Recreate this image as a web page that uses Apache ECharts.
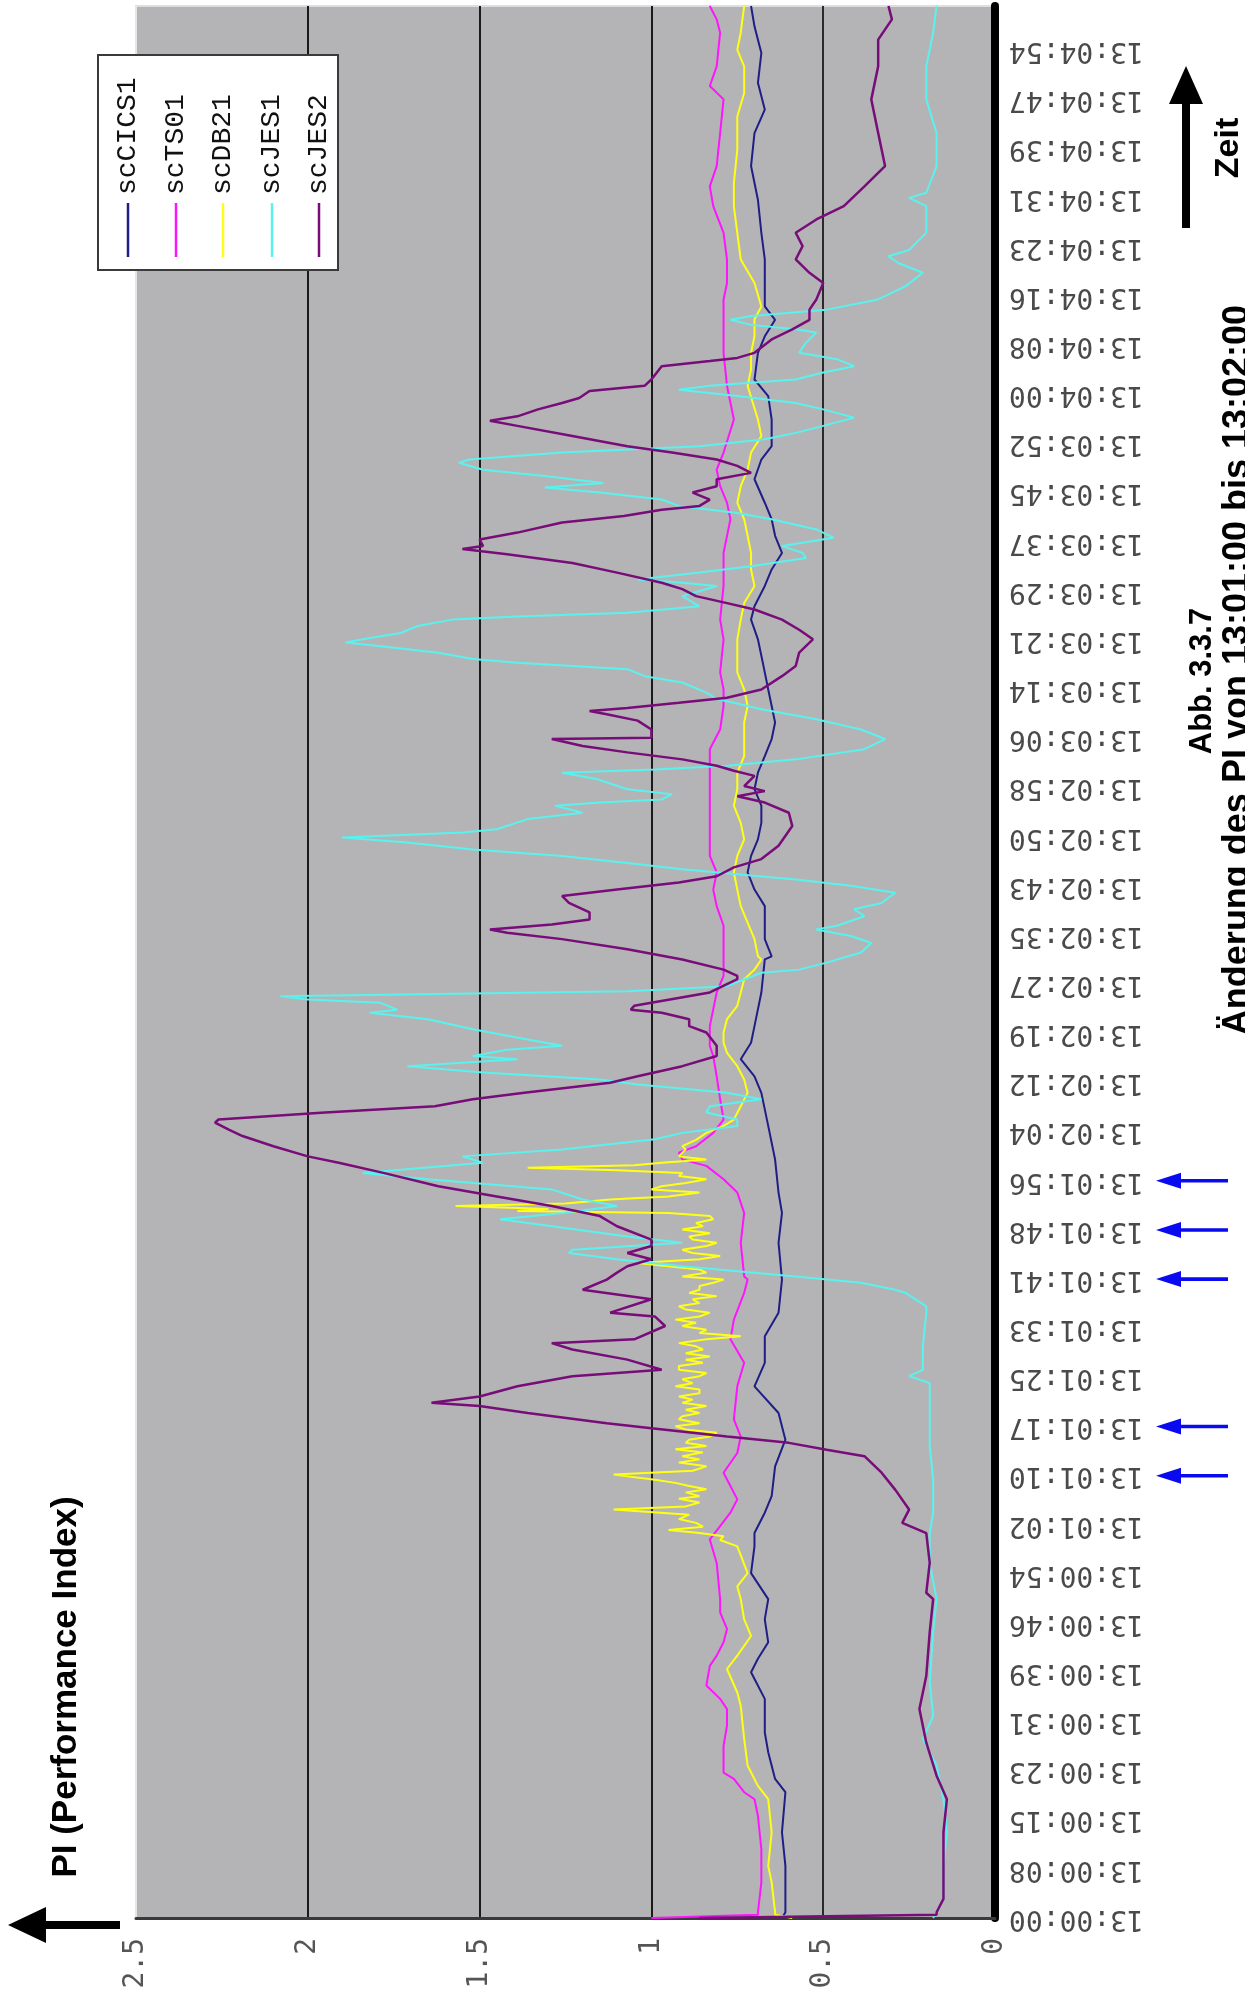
<!DOCTYPE html>
<html><head><meta charset="utf-8">
<script src="https://cdn.jsdelivr.net/npm/echarts@6.0.0/dist/echarts.min.js"></script>
<style>html,body{margin:0;padding:0;background:#fff;}#chart{width:1245px;height:2000px;}</style>
</head><body><div id="chart"></div>
<script>
// ---------- DATA ----------
const timeTickLabels = ['13:00:00','13:00:08','13:00:15','13:00:23','13:00:31','13:00:39','13:00:46','13:00:54',
 '13:01:02','13:01:10','13:01:17','13:01:25','13:01:33','13:01:41','13:01:48','13:01:56',
 '13:02:04','13:02:12','13:02:19','13:02:27','13:02:35','13:02:43','13:02:50','13:02:58',
 '13:03:06','13:03:14','13:03:21','13:03:29','13:03:37','13:03:45','13:03:52',
 '13:04:00','13:04:08','13:04:16','13:04:23','13:04:31','13:04:39','13:04:47','13:04:54'];
const timeTickStep = 294 / 38;          // seconds between two tick labels
const timeMax = 301;                     // seconds shown after 13:00:00
const valueTickLabels = ['0','0.5','1','1.5','2','2.5'];
const seriesNames = ['scCICS1','scTS01','scDB21','scJES1','scJES2'];
const seriesColors = ['#1e1e86','#ff14ff','#ffff14','#5af2ee','#780c78'];
const arrowLabels = ['13:01:10','13:01:17','13:01:41','13:01:48','13:01:56'];

// [seconds after 13:00:00, PI]
const scCICS1 = [[0,0.62],[0.9,0.61],[8.2,0.61],[13.5,0.62],[19.8,0.61],[21.9,0.64],[26.1,0.66],[29.2,0.67],[34.5,0.67],[38.7,0.71],[40.8,0.69],[43.4,0.66],[47.0,0.67],[50.2,0.66],[54.3,0.71],[58.5,0.70],[60.6,0.70],[63.8,0.67],[66.4,0.65],[71.1,0.64],[75.3,0.61],[79.5,0.63],[83.7,0.70],[87.4,0.67],[91.6,0.67],[95.3,0.63],[100.5,0.62],[106.3,0.63],[111.0,0.62],[114.2,0.63],[119.4,0.64],[124.7,0.66],[127.3,0.67],[129.9,0.68],[132.5,0.70],[135.2,0.74],[137.8,0.71],[140.4,0.70],[145.7,0.68],[150.9,0.67],[151.4,0.65],[154.1,0.67],[156.7,0.67],[159.3,0.67],[161.9,0.70],[164.6,0.72],[167.2,0.71],[169.8,0.69],[172.4,0.68],[175.1,0.68],[177.7,0.70],[180.3,0.69],[182.9,0.67],[185.6,0.65],[188.2,0.64],[190.8,0.65],[193.4,0.66],[196.1,0.67],[198.7,0.68],[201.3,0.69],[204.4,0.71],[206.5,0.70],[209.7,0.67],[212.3,0.65],[214.9,0.62],[217.6,0.64],[220.2,0.65],[222.8,0.67],[226.5,0.70],[229.6,0.68],[231.7,0.65],[235.9,0.65],[239.6,0.66],[242.2,0.70],[246.4,0.69],[249.0,0.67],[251.6,0.64],[253.7,0.67],[257.4,0.67],[261.1,0.67],[265.3,0.68],[270.5,0.69],[275.8,0.71],[281.0,0.70],[284.7,0.67],[288.9,0.69],[293.6,0.68],[297.8,0.70],[301.0,0.71]];

const scTS01 = [[0,1.00],[0.5,0.69],[0.9,0.69],[5.6,0.68],[10.8,0.68],[16.1,0.69],[18.7,0.70],[19.8,0.73],[21.9,0.76],[22.9,0.79],[27.1,0.79],[30.3,0.78],[32.9,0.78],[34.5,0.80],[36.6,0.84],[39.7,0.83],[41.3,0.81],[43.4,0.79],[45.5,0.78],[48.1,0.80],[50.2,0.80],[55.9,0.81],[59.6,0.83],[61.7,0.80],[63.8,0.77],[65.9,0.75],[68.0,0.77],[70.1,0.79],[73.2,0.75],[75.8,0.74],[78.5,0.76],[83.7,0.75],[87.4,0.73],[91.1,0.77],[94.2,0.76],[98.4,0.73],[100.5,0.72],[101.0,0.73],[106.3,0.74],[111.0,0.73],[114.2,0.75],[116.3,0.79],[118.4,0.84],[119.4,0.91],[120.5,0.92],[121.5,0.87],[123.6,0.82],[125.7,0.79],[128.9,0.80],[132.5,0.81],[135.7,0.82],[137.3,0.83],[140.4,0.83],[145.7,0.81],[148.3,0.79],[153.0,0.79],[156.2,0.79],[159.3,0.81],[161.9,0.82],[164.6,0.81],[167.2,0.83],[169.8,0.83],[174.0,0.83],[177.7,0.83],[181.4,0.83],[184.0,0.83],[187.1,0.80],[190.8,0.79],[193.4,0.79],[196.1,0.80],[201.3,0.79],[204.4,0.80],[209.7,0.79],[214.9,0.79],[220.2,0.77],[222.8,0.78],[225.4,0.80],[228.0,0.81],[230.7,0.79],[235.9,0.76],[241.2,0.78],[246.4,0.79],[251.7,0.79],[254.8,0.79],[257.4,0.78],[261.1,0.78],[265.3,0.79],[269.5,0.82],[272.6,0.83],[275.8,0.81],[281.0,0.80],[286.3,0.79],[288.4,0.83],[291.5,0.81],[296.8,0.80],[298.9,0.81],[301.0,0.83]];

const scDB21 = [[0,0.59],[0.5,0.64],[0.9,0.64],[5.6,0.65],[8.2,0.66],[13.5,0.65],[18.7,0.66],[20.8,0.69],[24.0,0.72],[28.2,0.73],[33.4,0.74],[35.5,0.75],[39.2,0.78],[41.3,0.75],[44.4,0.71],[47.0,0.73],[50.2,0.74],[52.2,0.75],[54.3,0.72],[58.5,0.75],
[59.5,0.80],[60.1,0.79],[60.6,0.86],[61.1,0.95],[61.6,0.85],[62.2,0.87],[62.8,0.92],[63.5,0.89],[64.3,1.11],[64.8,0.90],[65.4,0.86],[66.0,0.92],[66.4,0.86],[67.0,0.90],[67.5,0.84],[68.0,0.89],[68.5,0.93],[69.0,0.99],[69.8,1.11],[70.4,0.88],[71.1,0.84],[71.7,0.92],[72.2,0.86],[72.7,0.91],[73.3,0.85],[73.8,0.93],[74.3,0.84],[74.8,0.90],[75.3,0.89],[75.8,0.83],[76.4,0.81],[76.9,0.90],[77.4,0.93],[77.9,0.86],[78.5,0.92],[79.0,0.91],[79.5,0.86],[80.0,0.90],[80.6,0.84],[81.1,0.91],[81.6,0.88],[82.1,0.92],[82.6,0.86],[83.2,0.86],[83.7,0.93],[84.2,0.88],[84.8,0.91],[85.3,0.86],[85.8,0.84],[86.3,0.92],[86.9,0.92],[87.4,0.85],[87.9,0.90],[88.4,0.83],[88.9,0.90],[89.5,0.85],[90.0,0.87],[90.5,0.92],[91.1,0.84],[91.6,0.74],[92.1,0.86],[92.6,0.84],[93.2,0.91],[93.7,0.87],[94.2,0.93],[94.7,0.86],[95.3,0.83],[95.8,0.90],[96.3,0.92],[96.8,0.86],[97.4,0.88],[97.9,0.81],[98.4,0.89],[98.9,0.86],[99.5,0.86],[100.0,0.82],[100.5,0.79],
[101.0,0.91],[101.6,0.84],[102.1,0.86],[102.6,0.95],[103.1,1.04],[103.7,0.86],[104.2,0.80],[104.7,0.88],[105.2,0.91],[105.8,0.84],[106.3,0.81],[106.8,0.88],[107.3,0.89],[107.8,0.83],[108.4,0.91],[108.9,0.85],[109.4,0.87],[110.0,0.82],[110.5,0.83],[111.0,0.95],[111.3,1.39],[111.6,1.30],[112.1,1.57],[112.5,1.25],[113.1,1.12],[113.6,0.95],[114.2,0.86],[114.7,1.00],[115.2,0.97],[115.7,0.90],[116.3,0.84],[116.8,0.92],[117.3,0.91],[117.7,1.10],[118.1,1.36],[118.5,1.05],[118.9,0.97],[119.4,0.84],[119.9,0.92],[120.2,0.92],[121.0,0.90],[121.5,0.91],[122.5,0.87],[123.6,0.84],[124.7,0.79],[125.7,0.76],[127.8,0.74],[129.9,0.72],[132.0,0.73],[134.1,0.75],[136.2,0.78],[137.8,0.79],[139.4,0.79],[141.5,0.78],[143.6,0.75],[145.7,0.74],[147.8,0.73],[149.3,0.70],[150.9,0.68],[151.4,0.69],[154.1,0.70],[156.7,0.72],[159.3,0.74],[161.9,0.75],[164.6,0.76],[167.2,0.75],[169.8,0.73],[172.4,0.74],[175.1,0.76],[177.7,0.75],[180.3,0.75],[182.9,0.73],[185.6,0.73],[188.2,0.73],[190.8,0.72],[193.4,0.73],[196.1,0.75],[198.7,0.75],[201.3,0.75],[204.4,0.74],[207.0,0.73],[209.7,0.70],[212.3,0.71],[214.9,0.71],[217.6,0.72],[220.2,0.73],[222.8,0.75],[225.4,0.74],[228.0,0.72],[230.7,0.71],[233.3,0.68],[235.9,0.69],[241.2,0.72],[243.8,0.71],[246.4,0.71],[249.0,0.70],[251.7,0.70],[253.7,0.68],[257.4,0.70],[261.1,0.74],[265.3,0.75],[269.5,0.76],[273.1,0.76],[278.4,0.75],[281.0,0.75],[283.6,0.75],[287.3,0.73],[291.5,0.73],[294.1,0.75],[296.8,0.74],[301.0,0.73]];

const scJES1 = [[0,0.18],[0.3,0.18],[3.0,0.15],[8.2,0.15],[13.5,0.14],[18.7,0.15],[24.0,0.17],[28.2,0.21],[31.8,0.18],[37.1,0.19],[45.0,0.18],[50.2,0.17],[55.9,0.19],[60.6,0.19],[63.8,0.18],[69.0,0.18],[74.3,0.19],[79.5,0.19],[84.2,0.19],[85.3,0.25],[86.3,0.21],[90.0,0.21],[95.3,0.20],[96.3,0.20],[98.4,0.26],[98.9,0.29],[100.0,0.39],[101.0,0.58],[102.6,0.91],[103.7,1.10],[104.7,1.24],[105.2,1.23],[106.3,0.91],[107.3,1.07],[108.9,1.29],[110.0,1.44],[111.0,1.26],[112.1,1.10],[113.1,1.20],[114.7,1.29],[116.3,1.65],[117.3,1.84],[118.9,1.49],[119.9,1.55],[121.0,1.26],[122.6,0.99],[123.6,0.91],[124.7,0.75],[125.7,0.75],[126.8,0.84],[127.8,0.83],[128.9,0.68],[129.9,0.78],[131.2,1.04],[132.0,1.15],[133.1,1.49],[134.1,1.71],[135.2,1.39],[135.7,1.52],[136.7,1.42],[137.3,1.26],[138.3,1.36],[139.9,1.52],[141.5,1.65],[142.5,1.82],[143.0,1.74],[144.1,1.79],[144.6,2.00],[145.1,2.08],[145.9,1.07],[146.7,0.78],[148.8,0.68],[149.3,0.57],[150.4,0.49],[152.0,0.39],[153.5,0.36],[154.6,0.42],[155.6,0.52],[156.2,0.46],[157.7,0.38],[158.8,0.41],[159.8,0.33],[161.4,0.29],[162.5,0.42],[163.5,0.58],[164.3,0.75],[165.1,0.91],[166.1,1.07],[167.2,1.26],[168.2,1.52],[169.3,1.71],[170.1,1.90],[170.9,1.55],[171.4,1.45],[173.0,1.36],[174.0,1.20],[175.1,1.28],[175.6,1.15],[176.1,0.97],[176.9,0.94],[177.7,1.07],[179.3,1.16],[180.3,1.26],[180.8,0.99],[181.4,0.78],[182.4,0.58],[184.0,0.38],[185.6,0.32],[187.1,0.39],[188.7,0.52],[190.3,0.68],[191.3,0.76],[191.9,0.81],[192.9,0.84],[194.5,0.91],[195.5,1.02],[196.6,1.07],[197.6,1.39],[198.2,1.52],[199.2,1.62],[200.3,1.80],[200.8,1.89],[201.3,1.84],[202.3,1.73],[203.4,1.68],[204.4,1.58],[204.9,1.39],[205.5,1.07],[206.5,0.86],[208.1,0.91],[209.7,0.81],[210.2,0.91],[210.7,1.04],[211.8,0.86],[212.8,0.71],[214.1,0.55],[214.9,0.56],[216.0,0.62],[217.3,0.47],[218.6,0.52],[220.2,0.65],[221.2,0.75],[222.3,0.92],[223.3,0.97],[224.4,1.15],[225.2,1.31],[225.9,1.14],[227.0,1.31],[228.0,1.49],[229.1,1.56],[229.6,1.53],[230.7,1.26],[231.7,0.86],[232.8,0.67],[233.8,0.58],[234.9,0.50],[236.2,0.41],[237.5,0.50],[238.5,0.58],[239.6,0.75],[240.6,0.92],[241.2,0.83],[242.2,0.58],[243.3,0.50],[244.3,0.41],[245.4,0.46],[246.4,0.57],[248.0,0.55],[249.6,0.52],[250.1,0.58],[250.8,0.71],[251.6,0.77],[252.2,0.71],[253.2,0.49],[254.8,0.34],[256.9,0.26],[259.0,0.21],[260.5,0.28],[261.6,0.31],[262.6,0.25],[265.3,0.20],[269.5,0.20],[270.8,0.25],[271.6,0.20],[275.8,0.17],[281.0,0.17],[286.3,0.20],[291.5,0.20],[296.8,0.18],[301.0,0.17]];

const scJES2 = [[0,0.86],[0.5,0.17],[0.9,0.17],[3.0,0.15],[8.2,0.15],[13.5,0.15],[18.7,0.14],[22.4,0.17],[27.6,0.20],[32.9,0.22],[38.1,0.20],[45.0,0.19],[50.2,0.18],[51.2,0.20],[55.9,0.19],[60.6,0.20],[62.2,0.27],[64.3,0.25],[67.4,0.29],[70.1,0.33],[72.7,0.38],[73.7,0.49],[74.8,0.60],[75.8,0.78],[77.1,1.00],[77.9,1.13],[79.5,1.36],[80.6,1.50],[81.1,1.64],[82.1,1.50],[83.7,1.39],[85.3,1.23],[86.3,0.97],[87.9,1.07],[89.5,1.23],[90.5,1.29],[91.1,1.05],[93.2,0.96],[94.7,0.99],[95.3,1.12],[97.4,1.00],[98.9,1.20],[100.5,1.13],[101.6,1.10],[102.6,1.07],[103.7,1.00],[104.7,1.07],[105.8,1.00],[106.8,1.00],[108.9,1.10],[110.5,1.15],[112.1,1.29],[113.6,1.45],[115.2,1.62],[117.3,1.78],[118.9,1.91],[119.9,2.00],[121.5,2.10],[123.1,2.19],[124.1,2.23],[125.2,2.27],[125.7,2.26],[126.8,1.95],[127.8,1.63],[128.9,1.52],[129.9,1.37],[131.5,1.12],[132.5,1.04],[134.1,0.91],[135.7,0.81],[137.3,0.81],[139.4,0.84],[140.4,0.89],[141.5,0.89],[142.5,0.97],[143.0,1.06],[143.6,1.05],[145.7,0.83],[147.8,0.75],[148.3,0.75],[149.3,0.79],[150.9,0.91],[152.5,1.07],[154.1,1.26],[155.1,1.42],[155.6,1.47],[156.4,1.29],[157.2,1.18],[158.3,1.18],[159.8,1.24],[160.9,1.26],[161.9,1.10],[163.0,0.92],[164.0,0.81],[165.4,0.76],[166.7,0.68],[168.8,0.63],[171.9,0.59],[174.0,0.60],[175.6,0.67],[176.6,0.75],[177.4,0.67],[178.2,0.73],[179.8,0.70],[180.6,0.76],[181.4,0.81],[182.4,0.91],[183.5,1.07],[184.5,1.20],[185.6,1.29],[185.8,1.00],[187.1,1.00],[188.5,1.04],[189.5,1.13],[190.0,1.18],[190.5,1.07],[191.3,0.92],[192.1,0.78],[193.4,0.68],[195.5,0.62],[197.1,0.58],[199.2,0.57],[201.3,0.53],[202.8,0.57],[204.4,0.62],[206.0,0.70],[207.0,0.78],[208.1,0.87],[209.2,0.91],[210.2,0.97],[211.8,1.10],[213.3,1.23],[214.7,1.42],[215.5,1.55],[216.0,1.49],[217.0,1.50],[218.1,1.39],[219.7,1.26],[220.7,1.08],[221.7,0.97],[222.3,0.86],[223.3,0.83],[224.4,0.88],[225.4,0.81],[226.5,0.81],[227.5,0.71],[228.6,0.75],[229.6,0.81],[230.7,0.94],[231.7,1.07],[233.3,1.23],[234.9,1.39],[235.7,1.47],[236.4,1.39],[237.5,1.33],[238.5,1.26],[239.3,1.21],[240.4,1.18],[241.2,1.02],[242.2,1.00],[244.3,0.97],[245.1,0.83],[245.6,0.75],[246.4,0.70],[248.5,0.65],[250.1,0.59],[251.6,0.54],[253.2,0.54],[254.8,0.52],[257.4,0.50],[259.0,0.54],[261.1,0.58],[263.2,0.56],[265.3,0.58],[267.4,0.52],[269.5,0.44],[272.6,0.38],[275.8,0.32],[281.0,0.34],[286.3,0.36],[291.5,0.34],[295.7,0.34],[298.9,0.30],[301.0,0.31]];

// ---------- CHART ----------
const seriesData = [scCICS1, scTS01, scDB21, scJES1, scJES2];
const lineWidths = [2, 2, 2, 2, 2.5];
const chart = echarts.init(document.getElementById('chart'), null, {renderer: 'canvas'});

chart.setOption({
  animation: false,
  backgroundColor: '#ffffff',
  grid: {left: 136, right: 250, top: 6, bottom: 82, show: true, backgroundColor: '#b4b4b6',
         borderColor: '#dedede', borderWidth: 2, containLabel: false, outerBoundsMode: 'none'},
  xAxis: {
    type: 'value', inverse: true, min: 0, max: 2.5, interval: 0.5, position: 'bottom',
    axisLine: {show: true, onZero: false, lineStyle: {color: '#3a3a3a', width: 3}},
    axisTick: {show: false},
    axisLabel: {show: true, rotate: 90, margin: 20, fontFamily: '"DejaVu Sans Mono", monospace', fontSize: 28, color: '#555',
      formatter: v => { const i = Math.round(v / 0.5); return valueTickLabels[i] !== undefined ? valueTickLabels[i] : ''; }},
    splitLine: {show: true, lineStyle: {color: ['#000000', '#2a2a2a', '#1a1a1a', '#1a1a1a', '#1a1a1a', '#e6e6e6'], width: 2}}
  },
  yAxis: {
    type: 'value', min: 0, max: timeMax, interval: timeTickStep, position: 'right',
    axisLine: {show: true, onZero: false, lineStyle: {color: '#000', width: 8}},
    axisTick: {show: false},
    splitLine: {show: false},
    axisLabel: {show: true, rotate: 180, margin: 14, fontFamily: '"DejaVu Sans Mono", monospace', fontSize: 28, color: '#4a4a4a',
      formatter: v => { const i = Math.round(v / timeTickStep);
        return (Math.abs(v - i * timeTickStep) < 0.05 && i < timeTickLabels.length) ? timeTickLabels[i] : ''; }}
  },
  series: seriesNames.map((n, i) => ({
    name: n, type: 'line', showSymbol: false, symbol: 'none', silent: true, z: 2 + i,
    data: seriesData[i].map(p => [p[1], p[0]]),
    lineStyle: {color: seriesColors[i], width: lineWidths[i]},
    itemStyle: {color: seriesColors[i]}
  }))
});

// ---------- ANNOTATIONS ----------
const G = [];
const sansBold = '"Liberation Sans", Arial, sans-serif';
function rotText(text, x, y, size, align, extra) {
  return Object.assign({type: 'text', x: x, y: y, rotation: Math.PI / 2, z: 120,
    style: {text: text, font: 'bold ' + size + 'px ' + sansBold, fill: '#000',
            align: align, verticalAlign: 'middle', textAlign: align, textVerticalAlign: 'middle'}}, extra || {});
}
// legend box
G.push({type: 'rect', z: 100, shape: {x: 98, y: 55, width: 240, height: 215}, style: {fill: '#ffffff', stroke: '#3a3a3a', lineWidth: 2}});
const legendX = [128, 176, 223, 272, 319];
seriesNames.forEach((n, i) => {
  G.push({type: 'text', x: legendX[i], y: 195, rotation: Math.PI / 2, z: 101,
    style: {text: n, font: '28px "Liberation Mono", "DejaVu Sans Mono", monospace', fill: '#111',
            align: 'left', verticalAlign: 'middle', textAlign: 'left', textVerticalAlign: 'middle'}});
  G.push({type: 'line', z: 101, shape: {x1: legendX[i], y1: 203, x2: legendX[i], y2: 257},
    style: {stroke: seriesColors[i], lineWidth: 2.5}});
});
// axis titles and captions
G.push(rotText('PI (Performance Index)', 66, 1687, 35, 'center'));
G.push(rotText('Zeit', 1229, 148, 34, 'center'));
G.push(rotText('Abb. 3.3.7', 1202, 681, 31, 'center'));
G.push(rotText('Änderung des PI von 13:01:00 bis 13:02:00', 1238, 670, 36, 'center'));
// PI arrow (pointing left)
G.push({type: 'polygon', z: 120, shape: {points: [[8,1925],[46,1907],[46,1921],[120,1921],[120,1929],[46,1929],[46,1943]]}, style: {fill: '#000'}});
// Zeit arrow (pointing up)
G.push({type: 'polygon', z: 120, shape: {points: [[1186,66],[1203,104],[1190,104],[1190,228],[1182,228],[1182,104],[1169,104]]}, style: {fill: '#000'}});
// blue arrows at selected time ticks
arrowLabels.forEach(lbl => {
  const t = timeTickLabels.indexOf(lbl) * timeTickStep;
  const y = chart.convertToPixel({yAxisIndex: 0}, t);
  G.push({type: 'polygon', z: 120, shape: {points: [[1156,y],[1181,y-8],[1181,y-1.8],[1228,y-1.8],[1228,y+1.8],[1181,y+1.8],[1181,y+8]]},
    style: {fill: '#0a0af0'}});
});
chart.setOption({graphic: {elements: G}});
</script>
</body></html>
